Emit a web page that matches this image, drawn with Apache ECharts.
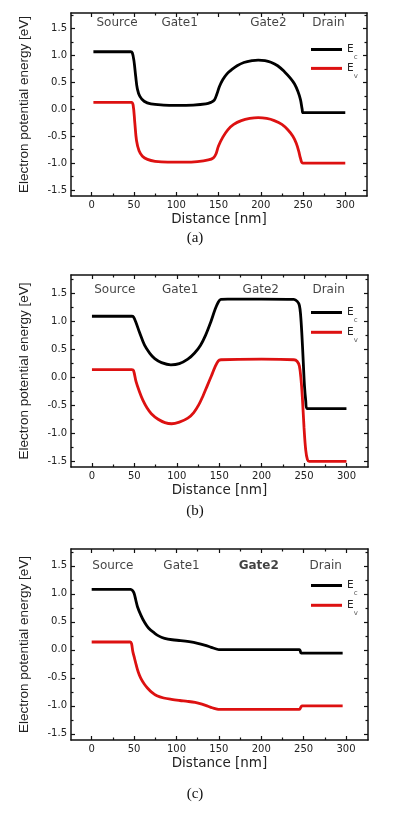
<!DOCTYPE html>
<html><head><meta charset="utf-8">
<script src="https://cdn.jsdelivr.net/npm/echarts@6/dist/echarts.min.js"></script>
<style>html,body{margin:0;padding:0;background:#fff;}#c{width:395px;height:813px;}</style>
</head><body><div id="c"></div>
<script>
// ---- tick labels ----
const xMajor = [0, 50, 100, 150, 200, 250, 300];
const xMinor = [25, 75, 125, 175, 225, 275];
const yMajor = [-1.5, -1.0, -0.5, 0.0, 0.5, 1.0, 1.5];
const yMinor = [-1.25, -0.75, -0.25, 0.25, 0.75, 1.25, 1.75];
const regionNames = ['Source', 'Gate1', 'Gate2', 'Drain'];
const captions = ['(a)', '(b)', '(c)'];

// ---- panel (a) ----
const aEc = [[2,1.07],[46,1.07],[48,1.05],[50,0.90],[52,0.62],[54,0.38],[57,0.24],[62,0.15],[70,0.10],[85,0.08],[100,0.075],[120,0.08],[135,0.10],[141,0.13],[145,0.17],[148,0.28],[151,0.42],[155,0.55],[160,0.66],[165,0.73],[172,0.81],[180,0.87],[190,0.905],[197,0.915],[205,0.905],[212,0.875],[220,0.81],[228,0.70],[235,0.58],[240,0.47],[244,0.33],[247,0.18],[249,0.0],[250,-0.06],[300,-0.06]];
const aEv = [[2,0.13],[47,0.13],[49,0.08],[51,-0.25],[53,-0.58],[56,-0.77],[60,-0.87],[66,-0.93],[75,-0.965],[90,-0.98],[110,-0.98],[125,-0.97],[138,-0.94],[144,-0.90],[147,-0.83],[150,-0.68],[155,-0.52],[161,-0.38],[168,-0.28],[177,-0.21],[187,-0.17],[197,-0.155],[207,-0.17],[216,-0.21],[225,-0.28],[232,-0.38],[238,-0.50],[242,-0.63],[245,-0.78],[247,-0.91],[250,-1.0],[300,-1.0]];
// ---- panel (b) ----
const bEc = [[0,1.085],[47,1.085],[49,1.07],[52,0.97],[56,0.80],[62,0.57],[68,0.43],[74,0.33],[82,0.26],[93,0.22],[103,0.24],[113,0.32],[121,0.43],[128,0.57],[134,0.75],[140,0.98],[145,1.20],[149,1.34],[152,1.385],[160,1.39],[200,1.39],[238,1.385],[242,1.35],[244.5,1.28],[246,1.10],[247.5,0.75],[249,0.30],[250.5,-0.15],[252,-0.42],[253.5,-0.56],[300,-0.56]];
const bEv = [[0,0.135],[47,0.135],[49,0.12],[52,-0.08],[56,-0.26],[60,-0.41],[65,-0.55],[70,-0.65],[78,-0.75],[86,-0.81],[94,-0.83],[103,-0.80],[113,-0.73],[120,-0.63],[126,-0.49],[131,-0.33],[136,-0.15],[141,0.03],[145,0.18],[149,0.29],[152,0.31],[200,0.32],[238,0.31],[242,0.28],[244.5,0.20],[246.5,-0.05],[248,-0.35],[250,-0.90],[252,-1.30],[254,-1.47],[256,-1.5],[300,-1.5]];
// ---- panel (c) ----
const cEc = [[0,1.08],[46,1.08],[48,1.06],[50,1.01],[52,0.89],[54,0.77],[58,0.62],[62,0.50],[67,0.39],[74,0.30],[80,0.24],[86,0.205],[95,0.18],[105,0.165],[115,0.145],[125,0.117],[133,0.085],[141,0.045],[148,0.01],[150,0.005],[245,0.005],[246,-0.02],[247,-0.06],[296,-0.06]];
const cEv = [[0,0.14],[45.5,0.14],[47,0.11],[48.5,-0.03],[50.5,-0.15],[52.5,-0.27],[55,-0.40],[58,-0.51],[62,-0.61],[66,-0.685],[71,-0.76],[77,-0.82],[85,-0.86],[94,-0.885],[104,-0.905],[113,-0.92],[122,-0.94],[130,-0.97],[136,-1.0],[142,-1.035],[148,-1.06],[150,-1.065],[245,-1.065],[246.5,-1.03],[248,-1.0],[296,-1.0]];

// region label anchor points (data coords) per panel
const aRegionAt = [[30,1.60],[104,1.60],[209,1.60],[280,1.60]];
const bRegionAt = [[27,1.55],[104,1.55],[199,1.55],[279,1.55]];
const cRegionAt = [[25,1.50],[106,1.50],[197,1.50],[276,1.50]];

const panels = [
  {ec: aEc, ev: aEv, reg: aRegionAt, grid: {left: 71, top: 13, width: 296, height: 183}, y: [-1.61, 1.79], x: [-24.5, 325.7], legTop: 44, legGap: 2.4, cap: 238, xt: 220.7, boldIdx: -1},
  {ec: bEc, ev: bEv, reg: bRegionAt, grid: {left: 71, top: 275, width: 297, height: 192}, y: [-1.60, 1.82], x: [-24.7, 325.4], legTop: 307, legGap: 3.3, cap: 510.7, xt: 492.7, boldIdx: -1},
  {ec: cEc, ev: cEv, reg: cRegionAt, grid: {left: 71, top: 549, width: 297, height: 191}, y: [-1.61, 1.80], x: [-24.4, 325.9], legTop: 580, legGap: 3.3, cap: 794, xt: 766.7, boldIdx: 2}
];

const AX = '#111';
const grids = [], xAxes = [], yAxes = [], series = [], legends = [], graphics = [];
panels.forEach((p, g) => {
  grids.push(Object.assign({containLabel: false}, p.grid));
  const common = (pos, vals, len, main, isX) => ({
    type: 'value', gridIndex: g, position: pos,
    min: isX ? p.x[0] : p.y[0], max: isX ? p.x[1] : p.y[1],
    axisLine: {show: main, onZero: false, lineStyle: {color: AX, width: 1.5}},
    axisTick: {show: true, inside: true, length: len, customValues: vals, lineStyle: {color: AX, width: 1.2}},
    splitLine: {show: false},
    axisLabel: {show: false}
  });
  // x axes
  const xb = common('bottom', xMajor, 4, true, true);
  xb.axisLabel = {show: true, customValues: xMajor, margin: 4, fontFamily: 'DejaVu Sans', fontSize: 10, color: '#222'};
  xb.name = 'Distance [nm]'; xb.nameLocation = 'middle'; xb.nameGap = 16;
  xb.nameTextStyle = {fontFamily: 'DejaVu Sans', fontSize: 13.5, color: '#222'};
  xAxes.push(xb, common('bottom', xMinor, 2.5, false, true), common('top', xMajor, 4, true, true), common('top', xMinor, 2.5, false, true));
  // y axes
  const yl = common('left', yMajor, 4, true, false);
  yl.axisLabel = {show: true, customValues: yMajor, margin: 4, fontFamily: 'DejaVu Sans', fontSize: 10, color: '#222', formatter: v => v.toFixed(1)};
  yl.name = 'Electron potential energy [eV]'; yl.nameLocation = 'middle'; yl.nameGap = 40;
  yl.nameTextStyle = {fontFamily: 'Liberation Sans', fontSize: 13.5, color: '#222'};
  yAxes.push(yl, common('left', yMinor, 2.5, false, false), common('right', yMajor, 4, true, false), common('right', yMinor, 2.5, false, false));
  const xi = 4 * g, yi = 4 * g;
  series.push(
    {name: 'Ec', type: 'line', xAxisIndex: xi, yAxisIndex: yi, data: p.ec, showSymbol: false, smooth: 0.35, lineStyle: {color: '#000', width: 2.8}, itemStyle: {color: '#000'}, z: 3, silent: true},
    {name: 'Ev', type: 'line', xAxisIndex: xi, yAxisIndex: yi, data: p.ev, showSymbol: false, smooth: 0.35, lineStyle: {color: '#dd1111', width: 2.8}, itemStyle: {color: '#dd1111'}, z: 3, silent: true},
    {type: 'scatter', xAxisIndex: xi, yAxisIndex: yi, symbolSize: 0, silent: true,
     data: p.reg.map((r, i) => ({value: r, label: {fontWeight: i === p.boldIdx ? 'bold' : 'normal'}})),
     label: {show: true, position: 'inside', formatter: d => regionNames[d.dataIndex], fontFamily: 'DejaVu Sans', fontSize: 12, color: '#111'}}
  );
  legends.push({
    data: ['Ec', 'Ev'], orient: 'vertical', left: p.grid.left + 240, top: p.legTop, padding: 0,
    itemWidth: 31, itemHeight: 3, itemGap: p.legGap, icon: 'rect', selectedMode: false,
    formatter: n => n === 'Ec' ? '{e|E}{s|c}' : '{e|E}{s|v}',
    textStyle: {rich: {
      e: {fontFamily: 'DejaVu Sans', fontSize: 10.5, color: '#222', lineHeight: 14},
      s: {fontFamily: 'DejaVu Sans', fontSize: 7, color: '#555', lineHeight: 14, verticalAlign: 'bottom', padding: [0, 0, -4, 0]}
    }}
  });
  graphics.push({type: 'text', x: 195, y: p.cap, style: {text: captions[g], font: '15px "Liberation Serif"', fill: '#111', textAlign: 'center', textVerticalAlign: 'middle'}});
});

const chart = echarts.init(document.getElementById('c'), null, {renderer: 'canvas'});
chart.setOption({
  animation: false,
  backgroundColor: '#fff',
  grid: grids, xAxis: xAxes, yAxis: yAxes, series: series, legend: legends, graphic: graphics
});
</script></body></html>
